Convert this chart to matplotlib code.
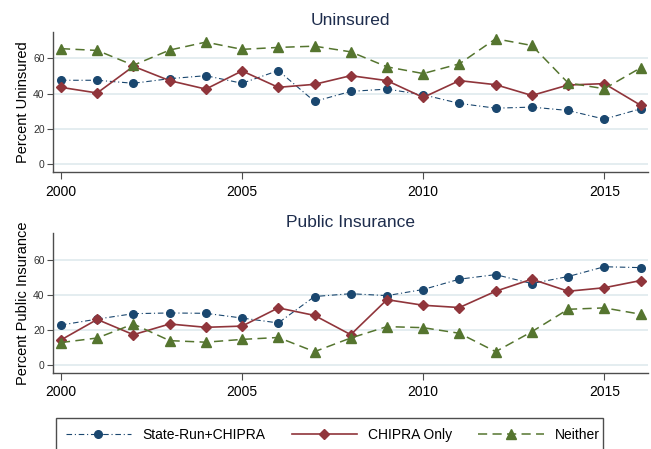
#!/usr/bin/env python3

import matplotlib

matplotlib.use("Agg")

import matplotlib.pyplot as plt
from matplotlib.lines import Line2D
from matplotlib.patches import Rectangle


OUTPUT_PNG = "out.png"

YEARS = list(range(2000, 2017))

# Uninsured (percent)
UNINSURED_STATE_RUN = [
    47.5, 47.5, 45.8, 48.4, 50.1, 45.8, 53.0, 35.5, 41.2,
    42.5, 39.3, 34.4, 31.7, 32.3, 30.4, 25.5, 31.3,
]
UNINSURED_CHIPRA = [
    43.5, 40.3, 55.4, 47.3, 42.5, 52.8, 43.5, 45.2, 50.1,
    47.3, 37.8, 47.3, 45.0, 38.9, 44.8, 45.6, 33.4,
]
UNINSURED_NEITHER = [
    65.4, 64.4, 56.0, 64.6, 69.1, 65.0, 66.1, 66.8, 63.6,
    55.1, 51.3, 56.8, 71.0, 67.2, 46.0, 42.7, 54.5,
]

# Public insurance (percent)
PUBLIC_STATE_RUN = [
    22.6, 26.0, 29.1, 29.5, 29.3, 26.6, 23.8, 38.9, 40.5,
    39.4, 42.9, 48.8, 51.4, 46.3, 50.3, 55.9, 55.4,
]
PUBLIC_CHIPRA = [
    14.1, 25.8, 17.1, 23.2, 21.3, 22.0, 32.4, 28.1, 17.1,
    37.1, 33.9, 32.6, 41.9, 48.8, 41.9, 43.9, 48.0,
]
PUBLIC_NEITHER = [
    12.6, 15.2, 23.2, 13.7, 12.8, 14.4, 15.5, 7.4, 15.2,
    21.7, 21.1, 17.9, 7.4, 18.8, 31.6, 32.4, 28.8,
]

SERIES_LABELS = [
    "State-Run+CHIPRA",
    "CHIPRA Only",
    "Neither",
]

PANEL_TITLES = [
    "Uninsured",
    "Public Insurance",
]

PANEL_YLABELS = [
    "Percent Uninsured",
    "Percent Public Insurance",
]

X_TICKS = [2000, 2005, 2010, 2015]
Y_TICKS = [0, 20, 40, 60]

NAVY = "#1a476f"
MAROON = "#90353b"
FOREST = "#55752f"
TITLE_COLOR = "#1e2d4d"
GRID_COLOR = "#e4edf0"
AXIS_COLOR = "#4d4d4d"

STYLES = [
    {
        "color": NAVY,
        "marker": "o",
        "markersize": 5.5,
        "linewidth": 0.8,
        "dashes": (5, 2.5, 1, 2.5),
    },
    {
        "color": MAROON,
        "marker": "D",
        "markersize": 5.5,
        "linewidth": 1.2,
        "dashes": (),
    },
    {
        "color": FOREST,
        "marker": "^",
        "markersize": 6.5,
        "linewidth": 1.1,
        "dashes": (6, 3.5),
    },
]

FIG_W_PX = 651
FIG_H_PX = 449


def style_axis(axis, title: str, ylabel: str) -> None:
    axis.set_title(
        title,
        fontsize=12.5,
        color=TITLE_COLOR,
        pad=4.5,
    )

    axis.set_ylabel(
        ylabel,
        fontsize=10.5,
        labelpad=2,
    )

    axis.set_xlim(1999.78, 2016.2)
    axis.set_ylim(-4.6, 75)

    axis.set_xticks(X_TICKS)
    axis.set_xticklabels(
        [str(year) for year in X_TICKS],
        fontsize=10,
    )
    axis.set_yticks(Y_TICKS)
    axis.set_yticklabels(
        [str(value) for value in Y_TICKS],
        fontsize=7.5,
        color="#333333",
    )

    axis.tick_params(
        axis="x",
        length=5,
        width=0.8,
        color=AXIS_COLOR,
        pad=4,
    )
    axis.tick_params(
        axis="y",
        length=4,
        width=0.8,
        color=AXIS_COLOR,
        pad=2,
    )

    axis.grid(
        axis="y",
        color=GRID_COLOR,
        linewidth=1.4,
    )
    axis.set_axisbelow(True)

    for side in ["top", "right"]:
        axis.spines[side].set_visible(False)

    for side in ["left", "bottom"]:
        axis.spines[side].set_color(AXIS_COLOR)
        axis.spines[side].set_linewidth(1.0)


def draw_panel(axis, series_list) -> None:
    for values, style, label in zip(
        series_list,
        STYLES,
        SERIES_LABELS,
    ):
        axis.plot(
            YEARS,
            values,
            color=style["color"],
            linewidth=style["linewidth"],
            dashes=style["dashes"],
            marker=style["marker"],
            markersize=style["markersize"],
            markerfacecolor=style["color"],
            markeredgecolor=style["color"],
            label=label,
            zorder=3,
        )


def create_plot() -> None:
    plt.rcParams["font.family"] = ["Liberation Sans", "DejaVu Sans"]

    figure = plt.figure(
        figsize=(FIG_W_PX / 100, FIG_H_PX / 100),
        dpi=100,
    )

    top_axis = figure.add_axes([0.0814, 0.6163, 0.9136, 0.3131])
    bottom_axis = figure.add_axes([0.0814, 0.1700, 0.9136, 0.3104])

    panels = [
        (top_axis, [UNINSURED_STATE_RUN, UNINSURED_CHIPRA, UNINSURED_NEITHER]),
        (bottom_axis, [PUBLIC_STATE_RUN, PUBLIC_CHIPRA, PUBLIC_NEITHER]),
    ]

    for (axis, series_list), title, ylabel in zip(
        panels,
        PANEL_TITLES,
        PANEL_YLABELS,
    ):
        draw_panel(axis, series_list)
        style_axis(axis, title, ylabel)

    handles = [
        Line2D(
            [0],
            [0],
            color=style["color"],
            linewidth=style["linewidth"],
            dashes=style["dashes"],
            marker=style["marker"],
            markersize=style["markersize"],
        )
        for style in STYLES
    ]

    # legend box runs past the bottom edge, as in the original export
    legend_left = 56 / FIG_W_PX
    legend_top = 1 - 418 / FIG_H_PX

    figure.patches.append(
        Rectangle(
            (legend_left, -0.05),
            (603 - 56) / FIG_W_PX,
            legend_top + 0.05,
            transform=figure.transFigure,
            facecolor="white",
            edgecolor=AXIS_COLOR,
            linewidth=1.0,
            zorder=0,
        )
    )

    figure.legend(
        handles,
        SERIES_LABELS,
        loc="upper left",
        bbox_to_anchor=(legend_left, legend_top),
        borderaxespad=0,
        ncol=3,
        fontsize=10,
        handlelength=4.7,
        handletextpad=0.8,
        columnspacing=1.9,
        borderpad=0.7,
        frameon=False,
    )

    figure.savefig(OUTPUT_PNG, dpi=100)
    plt.close(figure)


def main() -> None:
    create_plot()


if __name__ == "__main__":
    main()
